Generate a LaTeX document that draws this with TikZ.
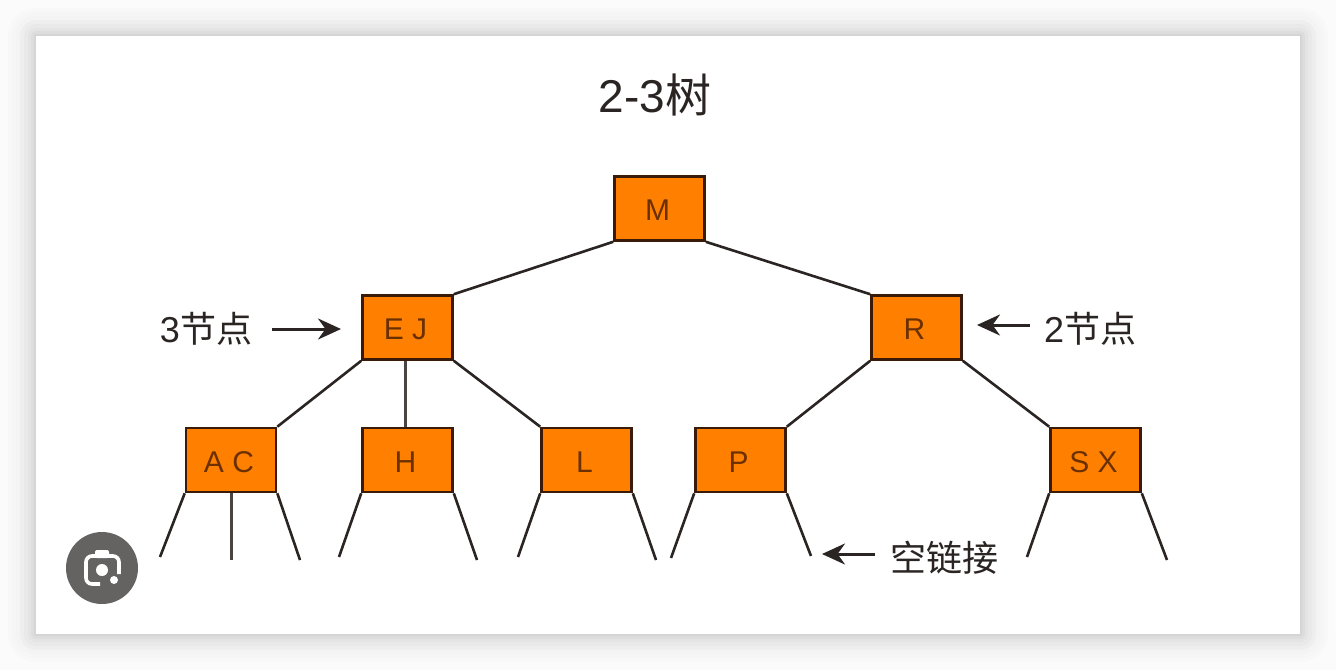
\documentclass[tikz,border=0pt]{standalone}
\usepackage{fontspec}
\usepackage{xcolor}
\usepackage{tikz}
\usetikzlibrary{arrows.meta}
\setmainfont{Liberation Sans}
\newfontfamily\cjk{Noto Sans CJK SC}
\definecolor{pagebg}{HTML}{FBFBFB}
\definecolor{boxfill}{HTML}{FF8000}
\definecolor{boxline}{HTML}{3A1A08}
\definecolor{boxtext}{HTML}{6B3000}
\definecolor{ink}{HTML}{2A2422}
\definecolor{lens}{HTML}{656362}
\newcommand{\boxlabel}[1]{\kern-4pt #1}
\tikzset{
  treebox/.style={draw=boxline, fill=boxfill, text=boxtext, line width=2.6pt,
    minimum width=90pt, minimum height=64pt, inner sep=0pt, text height=28pt, text depth=3.5pt,
    font=\fontsize{30}{34}\selectfont},
  branch/.style={draw=ink, line width=2.6pt},
  stem/.style={draw=ink!85, line width=3pt},
  pointer/.style={draw=ink, line width=3pt, -{Stealth[length=23pt,width=21pt]}},
  caption/.style={text=ink, inner sep=0pt, font=\fontsize{36}{40}\selectfont},
}
\begin{document}
\begin{tikzpicture}[x=1pt, y=-1pt]
  \useasboundingbox (0,0) rectangle (1336,670);
  \fill[pagebg] (0,0) rectangle (1336,670);

  % soft shadow round the panel
  \foreach \d/\g in {28/1, 24/2, 20/3, 16/5, 12/7, 8/9, 5/12, 2/15}{
    \fill[black!\g!pagebg, rounded corners=\d pt] ({36-\d},{36-\d}) rectangle ({1300+\d},{634+\d});
  }
  \fill[white] (36,36) rectangle (1300,634);

  \node[caption, font=\fontsize{46}{50}\selectfont] (title) at (655,95) {2-3{\cjk 树}};

  \node[treebox] (M) at (659.5,208.5) {\boxlabel{M}};
  \node[treebox] (EJ) at (407.5,327.5) {\boxlabel{E J}};
  \node[treebox] (R) at (916.5,327.5) {\boxlabel{R}};
  \node[treebox] (AC) at (231,460) {\boxlabel{A C}};
  \node[treebox] (H) at (407.5,460) {\boxlabel{H}};
  \node[treebox] (L) at (586.5,460) {\boxlabel{L}};
  \node[treebox] (P) at (740.5,460) {\boxlabel{P}};
  \node[treebox] (SX) at (1095.5,460) {\boxlabel{S X}};

  \draw[branch] (M.south west) -- (EJ.north east);
  \draw[branch] (M.south east) -- (R.north west);
  \draw[branch] (EJ.south west) -- (AC.north east);
  \draw[stem] ([xshift=-2.5pt]EJ.south) -- ([xshift=-2.5pt]H.north);
  \draw[branch] (EJ.south east) -- (L.north west);
  \draw[branch] (R.south west) -- (P.north east);
  \draw[branch] (R.south east) -- (SX.north west);

  % empty links below the leaves
  \coordinate (ACa) at (160,557);
  \coordinate (ACb) at (231,560);
  \coordinate (ACc) at (300,560);
  \coordinate (Ha) at (339,557);
  \coordinate (Hb) at (477,560);
  \coordinate (La) at (518,557);
  \coordinate (Lb) at (656,560);
  \coordinate (Pa) at (671,558);
  \coordinate (Pb) at (811,556);
  \coordinate (SXa) at (1027,557);
  \coordinate (SXb) at (1167,560);

  \draw[branch] (AC.south west) -- (ACa);
  \draw[stem] (AC.south) -- (ACb);
  \draw[branch] (AC.south east) -- (ACc);
  \foreach \n in {H,L,P,SX}{
    \draw[branch] (\n.south west) -- (\n a);
    \draw[branch] (\n.south east) -- (\n b);
  }

  \node[caption] (three) at (206,329) {3{\cjk 节点}};
  \node[caption] (two) at (1090,329) {2{\cjk 节点}};
  \node[caption] (null) at (944,558) {\cjk 空链接};

  \coordinate (threeTail) at (272,329);
  \coordinate (twoTail) at (1030,325);
  \coordinate (nullTail) at (875,554);
  \coordinate (threeTip) at (341,329);
  \coordinate (twoTip) at (977,325);
  \coordinate (nullTip) at (822,554);
  \draw[pointer] (threeTail) -- (threeTip);
  \draw[pointer] (twoTail) -- (twoTip);
  \draw[pointer] (nullTail) -- (nullTip);

  % camera badge
  \fill[lens] (102,568) circle (36);
  \draw[white, line width=3.6pt, rounded corners=6pt]
    (97,556) -- (86,556) -- (86,584) -- (100,584);
  \draw[white, line width=3.6pt, rounded corners=6pt]
    (107,556) -- (119,556) -- (119,574);
  \fill[white, rounded corners=2pt] (95,558) rectangle (109,550);
  \fill[white] (102,570) circle (6);
  \fill[white] (114,580) circle (4);
\end{tikzpicture}
\end{document}
